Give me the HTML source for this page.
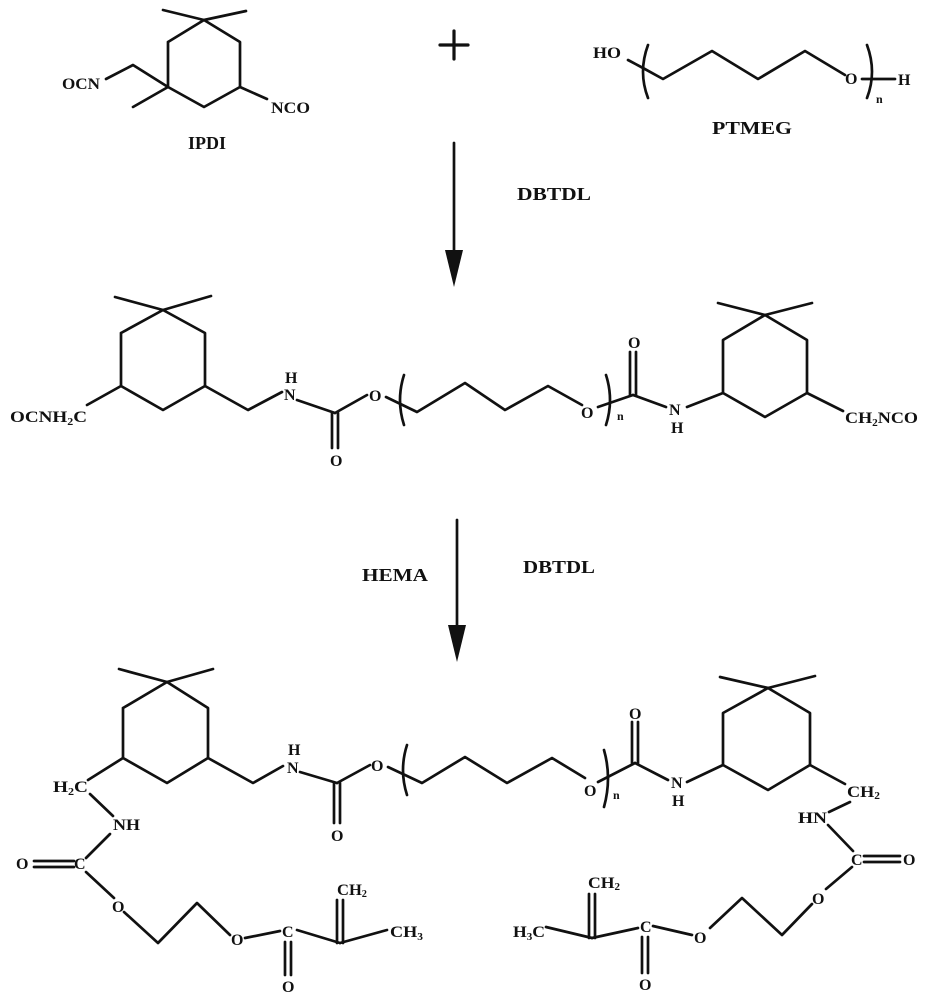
<!DOCTYPE html>
<html><head><meta charset="utf-8"><style>
html,body{margin:0;padding:0;background:#fff;}
svg{display:block;}
text{font-family:"Liberation Serif",serif;font-weight:bold;fill:#111;}
.s{font-size:16px;}
.b{font-size:18px;}
</style></head><body>
<svg width="929" height="1000" viewBox="0 0 929 1000" xmlns="http://www.w3.org/2000/svg">
<g stroke="#111" stroke-width="2.7" fill="none" stroke-linejoin="round" stroke-linecap="round">
<!-- IPDI -->
<polyline points="168,42 204,20 240,42 240,87 204,107 168,87 168,42"/>
<line x1="204" y1="20" x2="163" y2="10"/><line x1="204" y1="20" x2="246" y2="11"/>
<line x1="168" y1="87" x2="133" y2="107"/>
<polyline points="168,87 133,65 106,79"/>
<line x1="240" y1="87" x2="267" y2="99"/>
<!-- plus -->
<line x1="440" y1="45" x2="468" y2="45" stroke-width="3.2"/><line x1="454" y1="31" x2="454" y2="59" stroke-width="3.2"/>
<!-- PTMEG -->
<polyline points="628,60 643,68 663,79 712,51 758,79 805,51 845,75"/>
<line x1="862" y1="79" x2="895" y2="79"/>
<path d="M648,45 Q638,72 648,98"/>
<path d="M867,45 Q877,72 867,98"/>
<!-- arrow 1 -->
<line x1="454" y1="143" x2="454" y2="262"/>
<!-- middle structure left ring -->
<polyline points="121,333 163,310 205,333 205,386 163,410 121,386 121,333"/>
<line x1="163" y1="310" x2="115" y2="297"/><line x1="163" y1="310" x2="211" y2="296"/>
<line x1="121" y1="386" x2="87" y2="405"/>
<polyline points="205,386 248,410 282,392"/>
<line x1="297" y1="400" x2="335" y2="413"/>
<line x1="332" y1="413" x2="332" y2="448"/><line x1="338" y1="413" x2="338" y2="448"/>
<line x1="335" y1="413" x2="367" y2="395"/>
<path d="M404,375 Q396,400 404,425"/>
<polyline points="386,397 417,412 465,383 505,410 548,386 582,405"/>
<path d="M606,375 Q614,400 606,425"/>
<line x1="598" y1="407" x2="633" y2="395"/>
<line x1="630" y1="395" x2="630" y2="352"/><line x1="636" y1="395" x2="636" y2="352"/>
<line x1="633" y1="395" x2="666" y2="407"/>
<line x1="687" y1="407" x2="723" y2="393"/>
<polyline points="723,393 723,340 765,315 807,340 807,393 765,417 723,393"/>
<line x1="765" y1="315" x2="718" y2="303"/><line x1="765" y1="315" x2="812" y2="303"/>
<line x1="807" y1="393" x2="843" y2="411"/>
<!-- arrow 2 -->
<line x1="457" y1="520" x2="457" y2="632"/>
<!-- bottom left -->
<polyline points="123,708 167,682 208,708 208,758 167,783 123,758 123,708"/>
<line x1="167" y1="682" x2="119" y2="669"/><line x1="167" y1="682" x2="213" y2="669"/>
<line x1="123" y1="758" x2="88" y2="780"/>
<polyline points="208,758 253,783 283,766"/>
<line x1="300" y1="772" x2="337" y2="783"/>
<line x1="334" y1="783" x2="334" y2="823"/><line x1="340" y1="783" x2="340" y2="823"/>
<line x1="337" y1="783" x2="370" y2="765"/>
<path d="M407,745 Q399,770 407,795"/>
<polyline points="388,767 422,783 465,757 507,783 552,758 585,778"/>
<path d="M604,750 Q612,778 604,807"/>
<line x1="598" y1="782" x2="635" y2="763"/>
<line x1="632" y1="763" x2="632" y2="722"/><line x1="638" y1="763" x2="638" y2="722"/>
<line x1="635" y1="763" x2="668" y2="780"/>
<line x1="687" y1="782" x2="723" y2="765"/>
<line x1="90" y1="794" x2="113" y2="816"/>
<line x1="110" y1="834" x2="86" y2="858"/>
<line x1="34" y1="861" x2="74" y2="861"/><line x1="34" y1="867" x2="74" y2="867"/>
<line x1="86" y1="872" x2="114" y2="898"/>
<polyline points="124,912 158,943 197,903 230,935"/>
<line x1="245" y1="938" x2="280" y2="931"/>
<line x1="285" y1="942" x2="285" y2="975"/><line x1="291" y1="942" x2="291" y2="975"/>
<line x1="297" y1="930" x2="340" y2="943"/>
<line x1="337" y1="943" x2="337" y2="900"/><line x1="343" y1="943" x2="343" y2="900"/>
<line x1="340" y1="943" x2="387" y2="930"/>
<!-- bottom right -->
<polyline points="723,765 723,713 768,688 810,713 810,765 768,790 723,765"/>
<line x1="768" y1="688" x2="720" y2="677"/><line x1="768" y1="688" x2="815" y2="676"/>
<line x1="810" y1="765" x2="845" y2="784"/>
<line x1="850" y1="802" x2="829" y2="812"/>
<line x1="828" y1="825" x2="853" y2="851"/>
<line x1="864" y1="856" x2="900" y2="856"/><line x1="864" y1="862" x2="900" y2="862"/>
<line x1="852" y1="867" x2="826" y2="889"/>
<polyline points="812,904 782,935 742,898 710,928"/>
<line x1="692" y1="935" x2="653" y2="926"/>
<line x1="642" y1="937" x2="642" y2="973"/><line x1="648" y1="937" x2="648" y2="973"/>
<line x1="638" y1="928" x2="592" y2="938"/>
<line x1="589" y1="938" x2="589" y2="894"/><line x1="595" y1="938" x2="595" y2="894"/>
<line x1="592" y1="938" x2="546" y2="927"/>
</g>
<g fill="#111">
<polygon points="445,250 463,250 454,287"/>
<polygon points="448,625 466,625 457,662"/>
</g>
<!-- labels -->
<text class="s" x="62" y="89" textLength="38" lengthAdjust="spacingAndGlyphs">OCN</text>
<text class="s" x="271" y="113" textLength="39" lengthAdjust="spacingAndGlyphs">NCO</text>
<text class="b" x="207" y="149" text-anchor="middle">IPDI</text>
<text class="s" x="593" y="58" textLength="28" lengthAdjust="spacingAndGlyphs">HO</text>
<text class="s" x="845" y="84">O</text>
<text class="s" x="898" y="85">H</text>
<text class="s" x="876" y="103" style="font-size:12px">n</text>
<text class="b" x="712" y="134" textLength="80" lengthAdjust="spacingAndGlyphs">PTMEG</text>
<text class="b" x="517" y="200" textLength="74" lengthAdjust="spacingAndGlyphs">DBTDL</text>

<text class="s" x="10" y="422" textLength="77" lengthAdjust="spacingAndGlyphs">OCNH<tspan style="font-size:10px" dy="3">2</tspan><tspan dy="-3">C</tspan></text>
<text class="s" x="284" y="400">N</text><text class="s" x="285" y="383">H</text>
<text class="s" x="330" y="466">O</text>
<text class="s" x="369" y="401">O</text>
<text class="s" x="581" y="418">O</text>
<text class="s" x="617" y="420" style="font-size:12px">n</text>
<text class="s" x="628" y="348">O</text>
<text class="s" x="669" y="415">N</text><text class="s" x="671" y="433">H</text>
<text class="s" x="845" y="423" textLength="73" lengthAdjust="spacingAndGlyphs">CH<tspan style="font-size:10px" dy="3">2</tspan><tspan dy="-3">NCO</tspan></text>

<text class="b" x="362" y="581" textLength="66" lengthAdjust="spacingAndGlyphs">HEMA</text>
<text class="b" x="523" y="573" textLength="72" lengthAdjust="spacingAndGlyphs">DBTDL</text>

<text class="s" x="53" y="792" textLength="35" lengthAdjust="spacingAndGlyphs">H<tspan style="font-size:10px" dy="3">2</tspan><tspan dy="-3">C</tspan></text>
<text class="s" x="287" y="773">N</text><text class="s" x="288" y="755">H</text>
<text class="s" x="331" y="841">O</text>
<text class="s" x="371" y="771">O</text>
<text class="s" x="113" y="830" textLength="27" lengthAdjust="spacingAndGlyphs">NH</text>
<text class="s" x="74" y="869">C</text>
<text class="s" x="16" y="869">O</text>
<text class="s" x="112" y="912">O</text>
<text class="s" x="231" y="945">O</text>
<text class="s" x="282" y="937">C</text>
<text class="s" x="282" y="992">O</text>
<text class="s" x="337" y="895" textLength="30" lengthAdjust="spacingAndGlyphs">CH<tspan style="font-size:10px" dy="2">2</tspan></text>
<text class="s" x="390" y="937" textLength="33" lengthAdjust="spacingAndGlyphs">CH<tspan style="font-size:10px" dy="3">3</tspan></text>

<text class="s" x="584" y="796">O</text>
<text class="s" x="613" y="799" style="font-size:12px">n</text>
<text class="s" x="629" y="719">O</text>
<text class="s" x="671" y="788">N</text><text class="s" x="672" y="806">H</text>
<text class="s" x="847" y="797" textLength="33" lengthAdjust="spacingAndGlyphs">CH<tspan style="font-size:10px" dy="2">2</tspan></text>
<text class="s" x="798" y="823" textLength="29" lengthAdjust="spacingAndGlyphs">HN</text>
<text class="s" x="851" y="865">C</text>
<text class="s" x="903" y="865">O</text>
<text class="s" x="812" y="904">O</text>
<text class="s" x="694" y="943">O</text>
<text class="s" x="640" y="932">C</text>
<text class="s" x="639" y="990">O</text>
<text class="s" x="588" y="888" textLength="32" lengthAdjust="spacingAndGlyphs">CH<tspan style="font-size:10px" dy="2">2</tspan></text>
<text class="s" x="513" y="937" textLength="32" lengthAdjust="spacingAndGlyphs">H<tspan style="font-size:10px" dy="3">3</tspan><tspan dy="-3">C</tspan></text>
</svg>
</body></html>
